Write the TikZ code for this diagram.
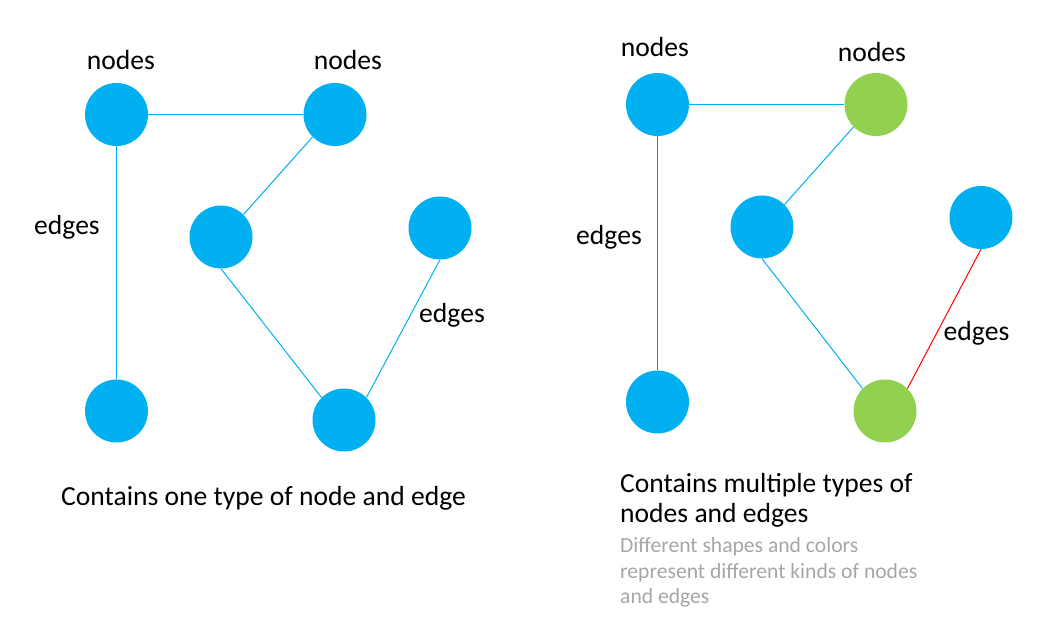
\documentclass[tikz,border=0pt]{standalone}
\usepackage{fontspec}
\setmainfont{Carlito}
\definecolor{nblue}{HTML}{00B0F0}
\definecolor{ngreen}{HTML}{92D050}
\definecolor{egreen}{HTML}{00B050}
\definecolor{ered}{HTML}{FF0000}
\definecolor{tgray}{HTML}{A6A6A6}
\begin{document}
\begin{tikzpicture}[x=1pt,y=-1pt,
  bnode/.style={circle,fill=nblue,minimum size=63pt,inner sep=0pt},
  gnode/.style={circle,fill=ngreen,minimum size=63pt,inner sep=0pt},
  link/.style={draw=nblue,line width=1pt},
  lbl/.style={font=\fontsize{27.6}{32}\selectfont,anchor=base,inner sep=0pt},
  captext/.style={font=\fontsize{27.6}{30}\selectfont,anchor=base west,inner sep=0pt},
  subtext/.style={font=\fontsize{21.6}{25.5}\selectfont,text=tgray,anchor=base west,inner sep=0pt}]
\useasboundingbox (0,0) rectangle (1061,644);
% left graph
\node[bnode] (A) at (116.5,114.5) {};
\node[bnode] (B) at (335,114.5) {};
\node[bnode] (C) at (221,237) {};
\node[bnode] (D) at (440,228) {};
\node[bnode] (E) at (116.5,411) {};
\node[bnode] (F) at (344,420) {};
\draw[link] (A.east) -- (B.west);
\draw[link] (A.south) -- (E.north);
\draw[link] (B.south west) -- (C.north east);
\draw[link] (C.south) -- (F.north west);
\draw[link] (F.north east) -- (D.south);
\node[lbl] (la) at (121,70) {nodes};
\node[lbl] (lb) at (348,70) {nodes};
\node[lbl] (le1) at (67,235) {edges};
\node[lbl] (le2) at (452,323) {edges};
\node[captext] (c1) at (61,505) {Contains one type of node and edge};
% right graph
\node[bnode] (G) at (657.5,104.5) {};
\node[gnode] (H) at (876,104.5) {};
\node[bnode] (I) at (762,227) {};
\node[bnode] (J) at (981,217.5) {};
\node[bnode] (K) at (657.5,402) {};
\node[gnode] (L) at (885,411) {};
\draw[link] (G.east) -- (H.west);
\draw[draw=egreen,line width=1pt] (G.south) -- (K.north);
\draw[link] (H.south west) -- (I.north east);
\draw[link] (I.south) -- (L.north west);
\draw[draw=ered,line width=1pt] (L.north east) -- (J.south);
\node[lbl] (lg) at (655,57) {nodes};
\node[lbl] (lh) at (872,62) {nodes};
\node[lbl] (le3) at (609,245) {edges};
\node[lbl] (le4) at (976.5,341) {edges};
\node[captext] (c2a) at (620,492) {Contains multiple types of};
\node[captext] (c2b) at (620,522) {nodes and edges};
\node[subtext] (s2a) at (620,552) {Different shapes and colors};
\node[subtext] (s2b) at (620,578) {represent different kinds of nodes};
\node[subtext] (s2c) at (620,603) {and edges};
\end{tikzpicture}
\end{document}
